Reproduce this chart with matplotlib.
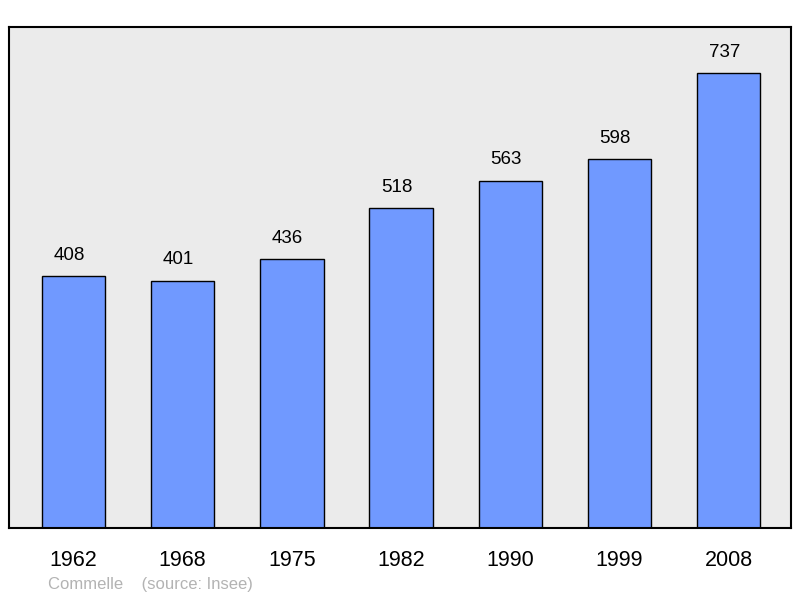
import matplotlib
matplotlib.use("Agg")
import matplotlib.pyplot as plt

years = ["1962", "1968", "1975", "1982", "1990", "1999", "2008"]
population = [408, 401, 436, 518, 563, 598, 737]

plt.rcParams['font.family'] = ['Liberation Sans', 'DejaVu Sans']

fig = plt.figure(figsize=(8, 5.98), dpi=100)
ax = fig.add_axes([9 / 800, 1 - 528 / 598, 782 / 800, 501 / 598])
ax.set_facecolor("#ebebeb")

x = range(len(years))
ax.bar(x, population, width=0.58, color="#7099ff", edgecolor="black", linewidth=1)
for xi, v in zip(x, population):
    ax.text(xi - 0.04, v + 20, str(v), ha="center", va="bottom", fontsize=13.5)

ax.set_xlim(-0.59, 6.57)
ax.set_ylim(0, 812)
ax.set_yticks([])
ax.set_xticks(list(x))
ax.set_xticklabels(years, fontsize=15.5)
ax.tick_params(axis="x", length=0, pad=16)
for s in ax.spines.values():
    s.set_linewidth(1.5)

fig.text(48 / 800, 1 - 584 / 598, "Commelle    (source: Insee)", fontsize=12,
         color="#b3b3b3", va="center")

fig.savefig("out.png", dpi=100)
